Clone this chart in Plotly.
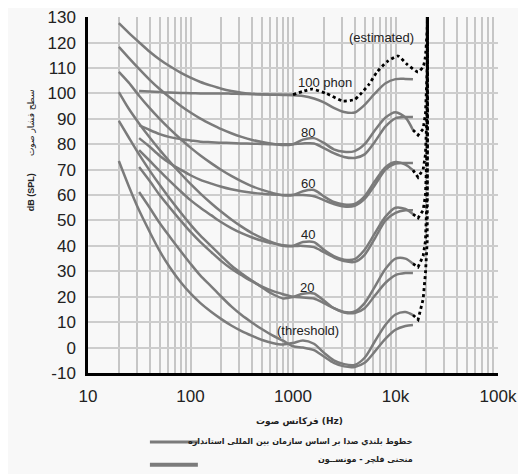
import numpy as np
import plotly.graph_objects as go

# ---------------- data ----------------
F_A = [20, 25, 31.5, 40, 50, 63, 80, 100, 125, 160, 200, 250, 315, 400, 500, 630, 800,
       1000, 1250, 1600, 2000, 2500, 3150, 4000, 5000, 6300, 8000, 10000, 12500, 14800]
F_A100 = F_A[:18]
A100 = [127.6, 123.8, 120.1, 116.4, 113.35, 110.65, 108.16, 106.17, 104.48, 103.03, 101.85,
        100.97, 100.3, 99.83, 99.62, 99.5, 99.44, 99.5]
A80 = [118.3, 114.0, 109.65, 105.34, 101.72, 98.36, 95.17, 92.48, 90.09, 87.82, 85.92, 84.31,
       82.89, 81.68, 80.86, 80.17, 79.67, 80.0, 81.8, 82.4, 80.5, 78.0, 77.0, 77.3, 80.0, 85.5,
       90.5, 92.6, 90.5, 85.6]
A60 = [108.5, 104.23, 99.08, 94.18, 89.96, 85.94, 82.05, 78.65, 75.56, 72.47, 69.86, 67.53,
       65.39, 63.45, 62.05, 60.81, 59.89, 60.0, 61.5, 62.0, 59.5, 57.3, 56.3, 56.5, 59.5, 65.5,
       71.0, 73.0, 72.0, 69.8]
A40 = [100.5, 93.94, 88.17, 82.63, 77.78, 73.08, 68.48, 64.37, 60.59, 56.7, 53.41, 50.4, 47.58,
       44.98, 43.05, 41.34, 40.06, 40.0, 41.5, 41.5, 38.5, 36.0, 34.6, 34.8, 38.5, 45.0, 51.5,
       55.0, 54.5, 52.5]
A20 = [89.2, 82.65, 75.98, 69.62, 64.02, 58.55, 53.19, 48.38, 44.01, 39.82, 35.98, 32.28, 29.17,
       26.32, 23.66, 21.09, 19.35, 19.9, 21.2, 21.3, 18.5, 15.5, 14.0, 14.2, 17.5, 24.0, 31.0,
       35.0, 35.0, 33.0]
ATHR = [73.4, 63.5, 54.0, 45.5, 38.0, 31.5, 25.8, 21.3, 17.5, 14.0, 11.2, 8.7, 6.5, 4.6, 3.0,
        1.8, 1.2, 1.8, 2.8, 1.5, -2.0, -5.0, -6.5, -6.8, -4.0, 2.5, 9.0, 13.0, 14.0, 12.8]

F_B = [31.5, 40, 50, 63, 80, 100, 125, 160, 200, 250, 315, 400, 500, 630, 800, 1000, 1250, 1600,
       2000, 2500, 3150, 4000, 5000, 6300, 8000, 10000, 12500, 14800]
B100 = [100.9, 100.7, 100.5, 100.3, 100.2, 100.1, 100.0, 100.0, 100.0, 99.9, 99.8, 99.7, 99.6,
        99.5, 99.4, 99.3, 99.0, 98.0, 96.5, 94.3, 92.7, 92.5, 95.5, 100.0, 104.0, 105.6, 105.7, 105.6]
B80 = [87.5, 85.6, 84.0, 82.8, 82.0, 81.5, 81.0, 80.8, 80.6, 80.5, 80.3, 80.2, 80.1, 80.0, 80.0,
       80.0, 80.3, 80.3, 78.5, 76.5, 75.0, 74.6, 76.0, 81.0, 87.0, 90.2, 90.7, 90.7]
B60 = [82.4, 79.0, 75.5, 72.5, 70.0, 67.8, 66.0, 64.5, 63.3, 62.3, 61.5, 60.9, 60.5, 60.2, 60.0,
       60.0, 60.0, 59.5, 58.0, 56.5, 55.5, 55.8, 58.5, 64.0, 70.0, 72.4, 72.6, 72.6]
B40 = [77.7, 73.5, 69.5, 65.5, 61.5, 58.0, 55.0, 52.0, 49.3, 47.0, 45.0, 43.3, 42.0, 41.0, 40.3,
       40.0, 40.0, 39.5, 37.5, 35.5, 34.0, 33.7, 36.5, 43.0, 50.0, 53.0, 54.0, 54.0]
B20 = [71.0, 65.5, 60.0, 55.0, 50.0, 45.5, 41.5, 37.5, 34.0, 31.0, 28.5, 26.0, 24.0, 22.3, 21.0,
       20.0, 19.7, 19.3, 17.5, 15.5, 13.8, 13.6, 15.5, 20.5, 25.5, 28.5, 29.3, 29.3]
BTHR = [61.2, 55.0, 49.0, 43.5, 38.0, 33.0, 28.3, 24.0, 20.0, 16.2, 12.8, 9.8, 7.2, 4.8, 2.7, 0.5,
        0.0, -1.0, -3.5, -6.0, -7.4, -7.6, -6.0, -1.5, 3.5, 7.0, 8.5, 8.9]

# estimated (dotted) parts
F_EST100 = [1000, 1250, 1530, 2100, 3076, 4000, 4500, 5500, 6600, 8300, 10600, 12900, 16600,
            18600, 19500, 20400, 20600]
EST100 = [99.5, 100.8, 101.7, 100.0, 97.0, 97.6, 99.5, 103.5, 108.4, 112.5, 114.7, 111.5, 108.4,
          110.5, 114.0, 125.7, 140.0]
F_EXT = [14800, 16600, 18600, 19600, 20400, 20600]
EXT80 = [85.6, 83.6, 86.0, 92.0, 110.0, 140.0]
EXT60 = [69.8, 67.0, 70.0, 76.0, 95.0, 140.0]
EXT40 = [52.5, 51.0, 54.0, 60.0, 80.0, 140.0]
EXT20 = [33.0, 31.7, 36.0, 42.0, 62.0, 140.0]
EXTTHR = [12.8, 11.0, 19.0, 29.3, 42.0, 140.0]

X_TICK_VALS = [m * 10 ** d for d in range(1, 5) for m in range(1, 10)] + [100000]
X_TICK_TEXT = {10: "10", 100: "100", 1000: "1000", 10000: "10k", 100000: "100k"}
Y_TICK_VALS = list(range(-10, 131, 10))

LABELS = [("100 phon", 2050, 104.4), ("80", 1400, 84.8), ("60", 1400, 64.7), ("40", 1400, 44.3),
          ("20", 1370, 23.8), ("(threshold)", 1400, 6.9), ("(estimated)", 7380, 122.1)]

LEGEND_A = "خطوط بلندي صدا بر اساس سازمان بين المللى استانداره"
LEGEND_B = "منحنی فلچر - مونســون"
X_TITLE = "فرکانس صوت (Hz)"
Y_TITLE_EN = "dB (SPL)"
Y_TITLE_FA = "سطح فشار صوت"

# ---------------- figure ----------------
GRAY = "#7b7b7b"
fig = go.Figure()

for xs, ys in [(F_A100, A100), (F_A, A80), (F_A, A60), (F_A, A40), (F_A, A20), (F_A, ATHR)]:
    fig.add_trace(go.Scatter(x=xs, y=ys, mode="lines",
                             line=dict(color=GRAY, width=2.5, shape="spline", smoothing=0.8),
                             showlegend=False, hoverinfo="skip"))
for ys in [B100, B80, B60, B40, B20, BTHR]:
    fig.add_trace(go.Scatter(x=F_B, y=ys, mode="lines",
                             line=dict(color=GRAY, width=2.5, shape="spline", smoothing=0.8),
                             showlegend=False, hoverinfo="skip"))

fig.add_trace(go.Scatter(x=F_EST100, y=EST100, mode="lines",
                         line=dict(color="black", width=2.8, dash="dot", shape="spline", smoothing=0.5),
                         showlegend=False, hoverinfo="skip"))
for ys in [EXT80, EXT60, EXT40, EXT20, EXTTHR]:
    fig.add_trace(go.Scatter(x=F_EXT, y=ys, mode="lines",
                             line=dict(color="black", width=2.8, dash="dot"),
                             showlegend=False, hoverinfo="skip"))

for txt, fx, fy in LABELS:
    fig.add_annotation(x=np.log10(fx), y=fy, text=txt, showarrow=False,
                       xanchor="center", yanchor="middle",
                       font=dict(family="Liberation Sans, Arial, sans-serif", size=13, color="#222"))

# axis titles and legend (positions in paper fractions of the plot area)
fig.add_annotation(xref="paper", yref="paper", x=0.517, y=-0.135, text="<b>" + X_TITLE + "</b>",
                   xanchor="center", yanchor="middle", showarrow=False,
                   font=dict(family="DejaVu Sans, sans-serif", size=9, color="#222"))
fig.add_annotation(xref="paper", yref="paper", x=-0.139, y=0.508, text="<b>" + Y_TITLE_EN + "</b>",
                   textangle=-90, xanchor="center", yanchor="middle", showarrow=False,
                   font=dict(family="Liberation Sans, Arial, sans-serif", size=9, color="#222"))
fig.add_annotation(xref="paper", yref="paper", x=-0.139, y=0.702, text=Y_TITLE_FA,
                   textangle=-90, xanchor="center", yanchor="middle", showarrow=False,
                   font=dict(family="DejaVu Sans, sans-serif", size=9, color="#222"))

fig.add_annotation(xref="paper", yref="paper", x=0.7976, y=-0.194, text="<b>" + LEGEND_A + "</b>",
                   xanchor="right", yanchor="middle", showarrow=False,
                   font=dict(family="DejaVu Sans, sans-serif", size=8, color="#222"))
fig.add_annotation(xref="paper", yref="paper", x=0.7976, y=-0.244, text="<b>" + LEGEND_B + "</b>",
                   xanchor="right", yanchor="middle", showarrow=False,
                   font=dict(family="DejaVu Sans, sans-serif", size=8, color="#222"))
fig.add_shape(type="line", xref="paper", yref="paper", x0=0.151, x1=0.268, y0=-0.194, y1=-0.194,
              line=dict(color=GRAY, width=3))
fig.add_shape(type="line", xref="paper", yref="paper", x0=0.151, x1=0.268, y0=-0.258, y1=-0.258,
              line=dict(color=GRAY, width=4))

fig.update_xaxes(type="log", range=[1, 5], tickmode="array", tickvals=X_TICK_VALS,
                 ticktext=[X_TICK_TEXT.get(v, "") for v in X_TICK_VALS],
                 showgrid=True, gridcolor="#c6c6c6", gridwidth=2, automargin=False,
                 showline=True, linecolor="black", linewidth=2.5, zeroline=False,
                 ticks="", ticklabelstandoff=6,
                 tickfont=dict(family="Liberation Sans, Arial, sans-serif", size=17, color="#222"))
fig.update_yaxes(range=[-10, 130.05], tickmode="array", tickvals=Y_TICK_VALS,
                 ticktext=[str(v) for v in Y_TICK_VALS],
                 showgrid=True, gridcolor="#cdcdcd", gridwidth=2, automargin=False,
                 showline=True, linecolor="black", linewidth=2.5, zeroline=False,
                 ticks="", ticklabelstandoff=6,
                 tickfont=dict(family="Liberation Sans, Arial, sans-serif", size=17, color="#222"))

# the page body adds an 8 px offset, so the figure is 8 px smaller than the window
fig.update_layout(width=518, height=466, margin=dict(l=80, r=28, t=9, b=101, autoexpand=False),
                  paper_bgcolor="#f8f8f8", plot_bgcolor="#f8f8f8", showlegend=False)

fig.write_html("out.html")
